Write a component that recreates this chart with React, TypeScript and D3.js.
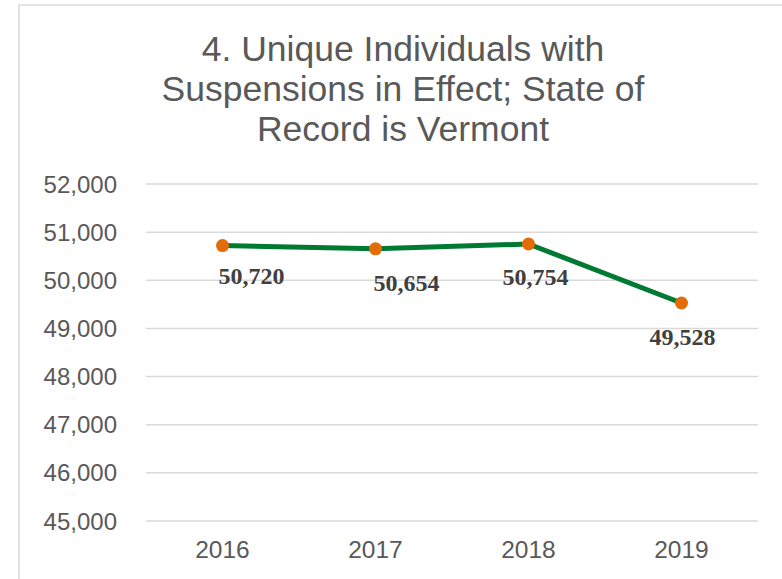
import React from "react";
import * as d3 from "d3";

const titleLines = ["4. Unique Individuals with", "Suspensions in Effect; State of", "Record is Vermont"];
const years = ["2016", "2017", "2018", "2019"];
const values = [50720, 50654, 50754, 49528];
const yTicks = [45000, 46000, 47000, 48000, 49000, 50000, 51000, 52000];
// manual label nudges (dx, dy) relative to each point, as in the reference
const labelDx = [29, 31, 7, 1];
const labelDy = [38, 42, 41, 42];

const W = 782;
const H = 579;

export default function App() {
  const x = d3.scaleBand<string>().domain(years).range([146, 758]);
  const y = d3.scaleLinear().domain([45000, 52000]).range([521, 184]);
  const fmt = d3.format(",");
  const line = d3
    .line<number>()
    .x((_, i) => (x(years[i]) as number) + x.bandwidth() / 2)
    .y((v) => y(v));

  return (
    <svg
      width={W}
      height={H}
      style={{ position: "absolute", left: 0, top: 0, background: "#fff" }}
    >
      <rect x={19} y={5} width={W} height={H + 10} fill="#fff" stroke="#d9d9d9" strokeWidth={1.5} />
      <g fontFamily="'Liberation Sans', Arial, sans-serif" fill="#595959" textAnchor="middle" fontSize={35.5}>
        {titleLines.map((t, i) => (
          <text key={i} x={403} y={60.5 + i * 40}>
            {t}
          </text>
        ))}
      </g>
      {yTicks.map((t) => (
        <g key={t}>
          <line x1={146} x2={758} y1={y(t)} y2={y(t)} stroke="#d9d9d9" strokeWidth={1.5} />
          <text
            x={117}
            y={y(t) + 8.5}
            textAnchor="end"
            fontFamily="'Liberation Sans', Arial, sans-serif"
            fontSize={24}
            fill="#595959"
          >
            {fmt(t)}
          </text>
        </g>
      ))}
      {years.map((yr) => (
        <text
          key={yr}
          x={(x(yr) as number) + x.bandwidth() / 2}
          y={558}
          textAnchor="middle"
          fontFamily="'Liberation Sans', Arial, sans-serif"
          fontSize={24.5}
          fill="#595959"
        >
          {yr}
        </text>
      ))}
      <path d={line(values) || ""} fill="none" stroke="#007A33" strokeWidth={5} strokeLinejoin="round" />
      {values.map((v, i) => (
        <circle
          key={i}
          cx={(x(years[i]) as number) + x.bandwidth() / 2}
          cy={y(v)}
          r={6.5}
          fill="#E36C09"
        />
      ))}
      {values.map((v, i) => (
        <text
          key={i}
          x={(x(years[i]) as number) + x.bandwidth() / 2 + labelDx[i]}
          y={y(v) + labelDy[i]}
          textAnchor="middle"
          fontFamily="'Liberation Serif', 'Times New Roman', serif"
          fontWeight="bold"
          fontSize={24}
          fill="#404040"
        >
          {fmt(v)}
        </text>
      ))}
    </svg>
  );
}
